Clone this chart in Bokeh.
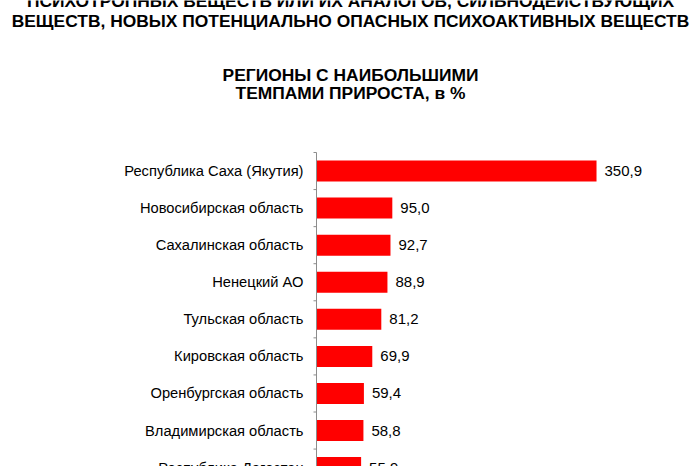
import math
from bokeh.plotting import figure
from bokeh.models import ColumnDataSource, Range1d
from bokeh.core.properties import value
from bokeh.embed import file_html
from bokeh.resources import INLINE

regions = [
    "Республика Саха (Якутия)",
    "Новосибирская область",
    "Сахалинская область",
    "Ненецкий АО",
    "Тульская область",
    "Кировская область",
    "Оренбургская область",
    "Владимирская область",
    "Республика Дагестан",
]
growth = [350.9, 95.0, 92.7, 88.9, 81.2, 69.9, 59.4, 58.8, 55.9]

title_lines = [
    "ПСИХОТРОПНЫХ ВЕЩЕСТВ ИЛИ ИХ АНАЛОГОВ, СИЛЬНОДЕЙСТВУЮЩИХ",
    "ВЕЩЕСТВ, НОВЫХ ПОТЕНЦИАЛЬНО ОПАСНЫХ ПСИХОАКТИВНЫХ ВЕЩЕСТВ",
]
subtitle_lines = [
    "РЕГИОНЫ С НАИБОЛЬШИМИ",
    "ТЕМПАМИ ПРИРОСТА, в %",
]

FONT = "Liberation Sans"
AXIS_COLOR = "#8c8c8c"

pos = list(range(len(regions)))
edges = [i - 0.5 for i in range(len(regions) + 1)]
source = ColumnDataSource(dict(
    y=pos,
    zero=[0] * len(regions),
    region=regions,
    value=growth,
    label=[f"{v:.1f}".replace(".", ",") for v in growth],
))

# одна область рисования на весь холст; ось категорий рисуется глифами
p = figure(
    width=700, height=466,
    x_range=Range1d(-396.0, 481.2),
    y_range=Range1d(7.97, -4.6),
    output_backend="svg", toolbar_location=None,
    x_axis_location=None, y_axis_location=None,
    min_border=0,
)
p.outline_line_color = None
p.grid.visible = False
# пиксельная система координат для заголовков
p.extra_x_ranges = {"px": Range1d(0, 700)}
p.extra_y_ranges = {"px": Range1d(466, 0)}

p.hbar(y="y", left=0, right="value", height=0.567, source=source,
       fill_color="#ff0000", line_color=None)

# ось: линия и засечки между категориями
p.segment(x0=[0], y0=[edges[0]], x1=[0], y1=[edges[-1]],
          line_color=AXIS_COLOR, line_width=1)
p.ray(x=[0] * len(edges), y=edges, length=3, length_units="screen",
      angle=math.pi, line_color=AXIS_COLOR, line_width=1)

p.text(x="zero", y="y", text="region", source=source,
       x_offset=-13, text_align="right", text_baseline="middle",
       text_font=value(FONT), text_font_size="14.7px", text_color="#000000")
p.text(x="value", y="y", text="label", source=source,
       x_offset=8, text_align="left", text_baseline="middle",
       text_font=value(FONT), text_font_size="15px", text_color="#000000")

p.text(x=[350, 350], y=[0.8, 20.4], text=title_lines,
       x_range_name="px", y_range_name="px",
       text_align="center", text_baseline="middle",
       text_font=value(FONT), text_font_style="bold", text_font_size="17.4px",
       text_color="#000000")
p.text(x=[350, 350], y=[74, 92], text=subtitle_lines,
       x_range_name="px", y_range_name="px",
       text_align="center", text_baseline="middle",
       text_font=value(FONT), text_font_style="bold", text_font_size="17.4px",
       text_color="#000000")

open("out.html", "w").write(file_html(p, INLINE))
